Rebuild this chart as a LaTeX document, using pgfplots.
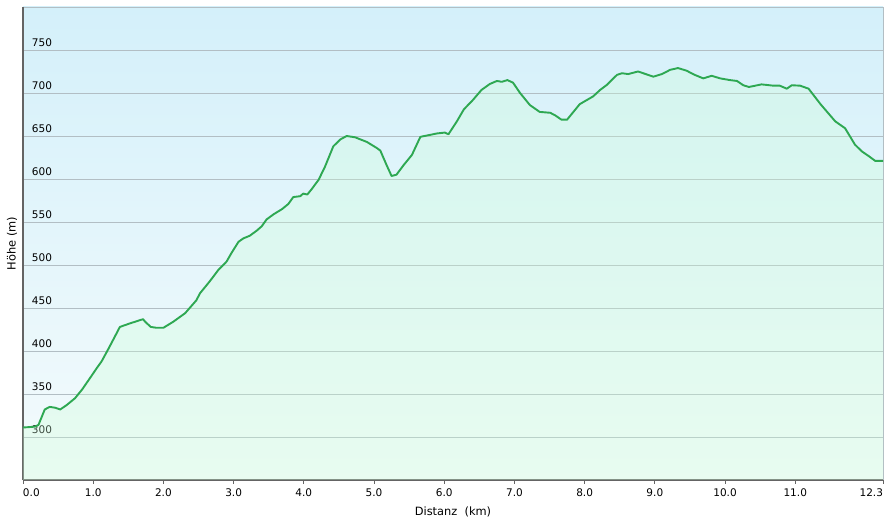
\documentclass[border=0pt]{standalone}
\usepackage{pgfplots}
\pgfplotsset{compat=1.18}
\usepackage{pgfplotstable}
\usepackage{fontspec}
\setmainfont{DejaVu Sans}

\definecolor{bgtop}{RGB}{212,240,250}
\definecolor{bgbot}{RGB}{244,251,252}
\definecolor{areagreen}{RGB}{205,255,215}
\definecolor{linegreen}{RGB}{46,168,82}
\definecolor{gridgray}{RGB}{178,190,196}
\definecolor{axisgray}{RGB}{100,100,100}

% elevation profile: distance (km), height (m)
\pgfplotstableread{
km    h
0.00  311
0.17  312
0.22  314
0.31  332
0.38  335
0.46  334
0.53  332
0.62  337
0.74  345
0.84  355
0.95  368
1.05  380
1.12  388
1.22  403
1.31  417
1.38  428
1.52  432
1.71  437
1.74  434
1.82  428
1.90  427
2.00  427
2.14  434
2.31  444
2.47  459
2.52  467
2.66  481
2.78  494
2.90  504
2.97  514
3.07  527
3.14  531
3.23  534
3.33  540
3.40  545
3.47  553
3.57  559
3.69  565
3.78  571
3.85  579
3.95  580
3.99  583
4.05  582
4.11  588
4.21  599
4.30  614
4.40  634
4.42  638
4.52  646
4.61  650
4.73  648.5
4.90  643
5.04  636
5.09  633
5.18  616
5.25  603.5
5.32  605
5.42  616
5.54  628
5.66  649
5.78  651
5.90  653
6.01  654
6.06  652
6.18  667
6.28  681
6.41  692
6.53  703.5
6.65  710.5
6.75  714
6.82  713
6.90  715
6.98  712
7.08  700
7.22  686
7.36  678
7.51  677
7.58  674
7.67  669
7.75  669
7.84  678
7.93  687
8.12  696
8.22  703.5
8.31  709
8.46  721
8.53  723
8.62  722
8.76  725
8.98  719
9.10  722
9.22  727
9.33  729
9.45  726
9.57  721
9.69  717
9.81  720
9.93  717
10.07 715
10.17 714
10.26 709
10.34 707
10.52 710
10.69 708.5
10.78 708.5
10.88 705
10.95 709
11.07 708.5
11.19 705
11.36 687
11.57 667
11.71 659
11.85 640
11.95 632
12.04 627
12.14 621
12.25 621
}\profile

\begin{document}
\fontsize{10.5}{12}\selectfont
\begin{tikzpicture}
\begin{axis}[
  scale only axis,
  width=860pt, height=473pt,
  xmin=0, xmax=12.25, ymin=250, ymax=800,
  axis lines*=left,
  axis line style={axisgray, line width=1.3pt},
  axis background/.style={top color=bgtop, bottom color=bgbot, draw=gridgray, line width=0.8pt},
  xtick={0,1,2,3,4,5,6,7,8,9,10,11,12.25},
  xticklabels={\makebox[0pt][l]{0.0},1.0,2.0,3.0,4.0,5.0,6.0,7.0,8.0,9.0,10.0,11.0,\makebox[0pt][r]{12.3}},
  ytick={300,350,...,750},
  tick align=outside,
  major tick length=4pt,
  xtick style={axisgray, line width=0.8pt},
  ytick style={draw=none},
  ymajorgrids,
  grid style={gridgray, line width=0.8pt},
  /pgf/number format/assume math mode=true,
  yticklabel style={anchor=base west, inner sep=0pt, xshift=12.7pt, yshift=3pt},
  xticklabel style={yshift=-1pt},
  xlabel={Distanz\ \ (km)},
  ylabel={Höhe (m)},
  label style={font=\fontsize{11.4}{13}\selectfont},
  xlabel style={at={(axis description cs:0.5,0)}, anchor=center, yshift=-32pt},
  ylabel style={at={(axis description cs:-0.0128,0.5)}, anchor=center, rotate=0},
]
\addplot[draw=none, fill=areagreen, fill opacity=0.3] table[x=km, y=h] {\profile} \closedcycle;
\addplot[linegreen, line width=1.9pt, line join=round] table[x=km, y=h] {\profile};
\end{axis}
\pgfresetboundingbox
\path ([shift={(-23pt,-42pt)}]current axis.south west) rectangle ([shift={(6pt,7pt)}]current axis.north east);
\end{tikzpicture}
\end{document}
